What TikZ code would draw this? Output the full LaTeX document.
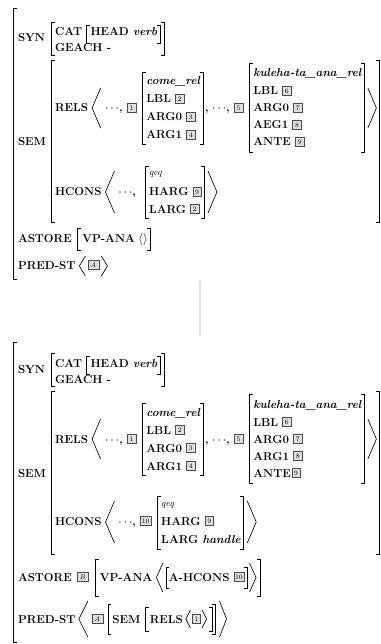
\documentclass[tikz,border=0pt]{standalone}
\usetikzlibrary{calc}
\newcommand\af{\fontsize{11.5}{13}\selectfont\bfseries}
\newcommand\vf{\fontsize{11.5}{13}\selectfont\bfseries\itshape}
\newcommand\qf{\fontsize{9.5}{10}\selectfont\mdseries\itshape}
\newcommand\tgf{\fontsize{6.8}{7}\selectfont\mdseries\upshape}
\tikzset{
 t/.style={anchor=base west, inner sep=0pt, outer sep=0pt, font=\af},
 v/.style={t, font=\vf},
 q/.style={t, font=\qf},
 tg/.style={anchor=west, draw=black!70, fill=black!12, line width=0.45pt, inner xsep=1.2pt, inner ysep=0pt, minimum width=8.6pt, minimum height=8.6pt, font=\tgf, outer sep=0pt},
 brk/.style={line width=0.75pt},
 ang/.style={line width=0.65pt},
 sepline/.style={line width=1.4pt, draw=black!13},
}
% x coordinate helpers (y=0)
\newcommand\XC[3]{\path let \p1=(#2) in coordinate (#1) at (\x1+#3pt,0pt);}
\newcommand\XM[4]{\path let \p1=(#2), \p2=(#3) in coordinate (#1) at ({max(\x1,\x2)+#4pt},0pt);}
% brackets
\newcommand\LBR[3]{\draw[brk] let \p1=(#1) in (\x1+3.5pt,-#2pt) -- (\x1,-#2pt) -- (\x1,-#3pt) -- (\x1+3.5pt,-#3pt);}
\newcommand\RBR[3]{\draw[brk] let \p1=(#1) in (\x1-3.5pt,-#2pt) -- (\x1,-#2pt) -- (\x1,-#3pt) -- (\x1-3.5pt,-#3pt);}
\newcommand\LANG[4]{\draw[ang] let \p1=(#1) in (\x1+#4pt,-#2pt) -- (\x1,{-(#2+#3)/2*1pt}) -- (\x1+#4pt,-#3pt);}
\newcommand\RANG[4]{\draw[ang] let \p1=(#1) in (\x1,-#2pt) -- (\x1+#4pt,{-(#2+#3)/2*1pt}) -- (\x1,-#3pt);}
\begin{document}
\begin{tikzpicture}[x=1pt,y=-1pt]
\useasboundingbox (0,0) rectangle (380,644);
% ================= TOP AVM =================
\coordinate (aO) at (13,0);
\LBR{aO}{8}{279}
\node[t] (aSYN) at (18,42) {SYN};
\node[t] (aSEM) at (18,146) {SEM};
% SYN
\coordinate (aB1) at (51,0);
\LBR{aB1}{22}{55}
\node[t] (aCAT) at (55,36) {CAT};
\XC{aB2}{aCAT.base east}{4.5}
\LBR{aB2}{25}{43}
\node[t] (aHEAD) at ($(aB2)+(4,36)$) {HEAD};
\node[v] (averb) at ($(aHEAD.base east)+(4.4,0)$) {verb};
\XC{aB2r}{averb.base east}{3}
\RBR{aB2r}{25}{43}
\XC{aB1r}{aB2r}{4}
\RBR{aB1r}{22}{55}
\node[t] (aGE) at (55,52) {GEACH -};
% SEM
\coordinate (aB3) at (51,0);
\LBR{aB3}{60}{222}
\coordinate (aB3r) at (379,0);
\RBR{aB3r}{60}{222}
% RELS
\node[t] (aRELS) at (55,112) {RELS};
\XC{aA1}{aRELS.base east}{4}
\LANG{aA1}{88}{128}{8.5}
\node[t] (ad1) at ($(aA1)+(13,112)$) {$\cdots$,};
\node[tg] (at1) at ($(ad1.base east)+(4.5,-4)$) {1};
\XC{aB4}{at1.east}{6.5}
\LBR{aB4}{72}{144}
\node[v] (acome) at ($(aB4)+(4,85)$) {come\_rel};
\node[t] (aLBL1) at ($(aB4)+(4,103)$) {LBL};
\node[tg] (at2) at ($(aLBL1.base east)+(4.4,-4)$) {2};
\node[t] (aARG01) at ($(aB4)+(4,121)$) {ARG0};
\node[tg] (at3) at ($(aARG01.base east)+(4.4,-4)$) {3};
\node[t] (aARG11) at ($(aB4)+(4,139)$) {ARG1};
\node[tg] (at4) at ($(aARG11.base east)+(4.4,-4)$) {4};
\XM{aB4r}{acome.east}{at3.east}{3}
\RBR{aB4r}{72}{144}
\node[t] (ad2) at ($(aB4r)+(2,112)$) {,\hspace{3.5pt}$\cdots$,};
\node[tg] (at5) at ($(ad2.base east)+(4.5,-4)$) {5};
\XC{aB5}{at5.east}{6.5}
\LBR{aB5}{63}{152}
\node[v] (akul) at ($(aB5)+(4,77)$) {kuleha-ta\_ana\_rel};
\node[t] (aLBL2) at ($(aB5)+(4,95)$) {LBL};
\node[tg] (at6) at ($(aLBL2.base east)+(4.4,-4)$) {6};
\node[t] (aARG02) at ($(aB5)+(4,112)$) {ARG0};
\node[tg] (at7) at ($(aARG02.base east)+(4.4,-4)$) {7};
\node[t] (aAEG) at ($(aB5)+(4,129)$) {AEG1};
\node[tg] (at8) at ($(aAEG.base east)+(4.4,-4)$) {8};
\node[t] (aANTE) at ($(aB5)+(4,146)$) {ANTE};
\node[tg] (at9) at ($(aANTE.base east)+(4.4,-4)$) {9};
\XM{aB5r}{akul.east}{at7.east}{3}
\RBR{aB5r}{63}{152}
\XC{aA2}{aB5r}{3.5}
\RANG{aA2}{88}{128}{8.5}
% HCONS
\node[t] (aHC) at (55,196) {HCONS};
\XC{aA3}{aHC.base east}{4}
\LANG{aA3}{171}{213}{9}
\node[t] (ad3) at ($(aA3)+(13,196)$) {$\cdots$,};
\XC{aB6}{ad3.base east}{9}
\LBR{aB6}{166}{218}
\node[q] (aqeq) at ($(aB6)+(4,176)$) {qeq};
\node[t] (aHARG) at ($(aB6)+(4,196)$) {HARG};
\node[tg] (at9b) at ($(aHARG.base east)+(4.4,-4)$) {9};
\node[t] (aLARG) at ($(aB6)+(4,213)$) {LARG};
\node[tg] (at2b) at ($(aLARG.base east)+(4.4,-4)$) {2};
\XM{aB6r}{at9b.east}{at2b.east}{3}
\RBR{aB6r}{166}{218}
\XC{aA4}{aB6r}{3.5}
\RANG{aA4}{171}{213}{9}
% ASTORE
\node[t] (aAS) at (18,242) {ASTORE};
\XC{aB7}{aAS.base east}{6}
\LBR{aB7}{228}{250}
\node[t] (aVP) at ($(aB7)+(4.5,242)$) {VP-ANA};
\node[t] (aemp) at ($(aVP.base east)+(3.5,0)$) {$\langle\rangle$};
\XC{aB7r}{aemp.base east}{2.5}
\RBR{aB7r}{228}{250}
% PRED-ST
\node[t] (aPS) at (18,269) {PRED-ST};
\XC{aA5}{aPS.base east}{4}
\LANG{aA5}{256}{276}{6}
\node[tg, minimum width=11pt] (atA) at ($(aA5)+(8.5,265)$) {\itshape A};
\XC{aA6}{atA.east}{2.5}
\RANG{aA6}{256}{276}{6}

% ================= separator =================
\coordinate (s1) at (200,281);
\coordinate (s2) at (200,336);
\draw[sepline] (s1) -- (s2);

% ================= BOTTOM AVM =================
\coordinate (bO) at (13,0);
\LBR{bO}{342}{642}
\node[t] (bSYN) at (18,373) {SYN};
\node[t] (bSEM) at (18,477) {SEM};
\coordinate (bB1) at (51,0);
\LBR{bB1}{353}{386}
\node[t] (bCAT) at (55,367) {CAT};
\XC{bB2}{bCAT.base east}{4.5}
\LBR{bB2}{356}{374}
\node[t] (bHEAD) at ($(bB2)+(4,367)$) {HEAD};
\node[v] (bverb) at ($(bHEAD.base east)+(4.4,0)$) {verb};
\XC{bB2r}{bverb.base east}{3}
\RBR{bB2r}{356}{374}
\XC{bB1r}{bB2r}{4}
\RBR{bB1r}{353}{386}
\node[t] (bGE) at (55,383) {GEACH -};
% SEM
\coordinate (bB3) at (51,0);
\LBR{bB3}{391}{554}
\coordinate (bB3r) at (379,0);
\RBR{bB3r}{391}{554}
% RELS
\node[t] (bRELS) at (55,443) {RELS};
\XC{bA1}{bRELS.base east}{4}
\LANG{bA1}{419}{459}{8.5}
\node[t] (bd1) at ($(bA1)+(13,443)$) {$\cdots$,};
\node[tg] (bt1) at ($(bd1.base east)+(4.5,-4)$) {1};
\XC{bB4}{bt1.east}{6.5}
\LBR{bB4}{403}{475}
\node[v] (bcome) at ($(bB4)+(4,416)$) {come\_rel};
\node[t] (bLBL1) at ($(bB4)+(4,434)$) {LBL};
\node[tg] (bt2) at ($(bLBL1.base east)+(4.4,-4)$) {2};
\node[t] (bARG01) at ($(bB4)+(4,452)$) {ARG0};
\node[tg] (bt3) at ($(bARG01.base east)+(4.4,-4)$) {3};
\node[t] (bARG11) at ($(bB4)+(4,470)$) {ARG1};
\node[tg] (bt4) at ($(bARG11.base east)+(4.4,-4)$) {4};
\XM{bB4r}{bcome.east}{bt3.east}{3}
\RBR{bB4r}{403}{475}
\node[t] (bd2) at ($(bB4r)+(2,443)$) {,\hspace{3.5pt}$\cdots$,};
\node[tg] (bt5) at ($(bd2.base east)+(4.5,-4)$) {5};
\XC{bB5}{bt5.east}{6.5}
\LBR{bB5}{394}{483}
\node[v] (bkul) at ($(bB5)+(4,408)$) {kuleha-ta\_ana\_rel};
\node[t] (bLBL2) at ($(bB5)+(4,426)$) {LBL};
\node[tg] (bt6) at ($(bLBL2.base east)+(4.4,-4)$) {6};
\node[t] (bARG02) at ($(bB5)+(4,443)$) {ARG0};
\node[tg] (bt7) at ($(bARG02.base east)+(4.4,-4)$) {7};
\node[t] (bARG12) at ($(bB5)+(4,460)$) {ARG1};
\node[tg] (bt8) at ($(bARG12.base east)+(4.4,-4)$) {8};
\node[t] (bANTE) at ($(bB5)+(4,477)$) {ANTE};
\node[tg] (bt9) at ($(bANTE.base east)+(1,-4)$) {9};
\XM{bB5r}{bkul.east}{bt7.east}{3}
\RBR{bB5r}{394}{483}
\XC{bA2}{bB5r}{3.5}
\RANG{bA2}{419}{459}{8.5}
% HCONS
\node[t] (bHC) at (55,525) {HCONS};
\XC{bA3}{bHC.base east}{4}
\LANG{bA3}{501}{543}{9}
\node[t] (bd3) at ($(bA3)+(13,525)$) {$\cdots$,};
\node[tg] (bt10) at ($(bd3.base east)+(4.5,-4)$) {10};
\XC{bB6}{bt10.east}{6.5}
\LBR{bB6}{496}{549}
\node[q] (bqeq) at ($(bB6)+(4,506)$) {qeq};
\node[t] (bHARG) at ($(bB6)+(4,525)$) {HARG};
\node[tg] (bt9b) at ($(bHARG.base east)+(4.4,-4)$) {9};
\node[t] (bLARG) at ($(bB6)+(4,543)$) {LARG};
\node[v] (bhandle) at ($(bLARG.base east)+(4.4,0)$) {handle};
\XM{bB6r}{bt9b.east}{bhandle.east}{3}
\RBR{bB6r}{496}{549}
\XC{bA4}{bB6r}{3.5}
\RANG{bA4}{501}{543}{9}
% ASTORE
\node[t] (bAS) at (18,581) {ASTORE};
\node[tg, minimum width=11pt] (btB) at ($(bAS.base east)+(5,-4)$) {\itshape B};
\XC{bB7}{btB.east}{7.5}
\LBR{bB7}{559}{596}
\node[t] (bVP) at ($(bB7)+(4.5,581)$) {VP-ANA};
\XC{bA7}{bVP.base east}{4}
\LANG{bA7}{563}{592}{6.5}
\XC{bB8}{bA7}{9.5}
\LBR{bB8}{567}{588}
\node[t] (bAH) at ($(bB8)+(3,581)$) {A-HCONS};
\node[tg] (bt10b) at ($(bAH.base east)+(4.4,-4)$) {10};
\XC{bB8r}{bt10b.east}{3}
\RBR{bB8r}{567}{588}
\XC{bA8}{bB8r}{2.5}
\RANG{bA8}{563}{592}{6.5}
\XC{bB7r}{bA8}{10.5}
\RBR{bB7r}{559}{596}
% PRED-ST
\node[t] (bPS) at (18,623) {PRED-ST};
\XC{bA5}{bPS.base east}{3.5}
\LANG{bA5}{601}{637}{9}
\node[tg, minimum width=11pt] (btA) at ($(bA5)+(13,619)$) {\itshape A};
\XC{bB9}{btA.east}{5}
\LBR{bB9}{604}{634}
\node[t] (bSEM2) at ($(bB9)+(4.5,623)$) {SEM};
\XC{bB10}{bSEM2.base east}{5}
\LBR{bB10}{607}{631}
\node[t] (bRELS2) at ($(bB10)+(4.5,623)$) {RELS};
\XC{bA9}{bRELS2.base east}{3}
\LANG{bA9}{610}{628}{4.5}
\node[tg] (bt1b) at ($(bA9)+(6,619)$) {1};
\XC{bB10rA}{bt1b.east}{1.5}
\RANG{bB10rA}{610}{628}{4.5}
\XC{bB10r}{bB10rA}{10}
\RBR{bB10r}{607}{631}
\XC{bB9r}{bB10r}{3.5}
\RBR{bB9r}{604}{634}
\XC{bA11}{bB9r}{4}
\RANG{bA11}{601}{637}{7}
\end{tikzpicture}
\end{document}
